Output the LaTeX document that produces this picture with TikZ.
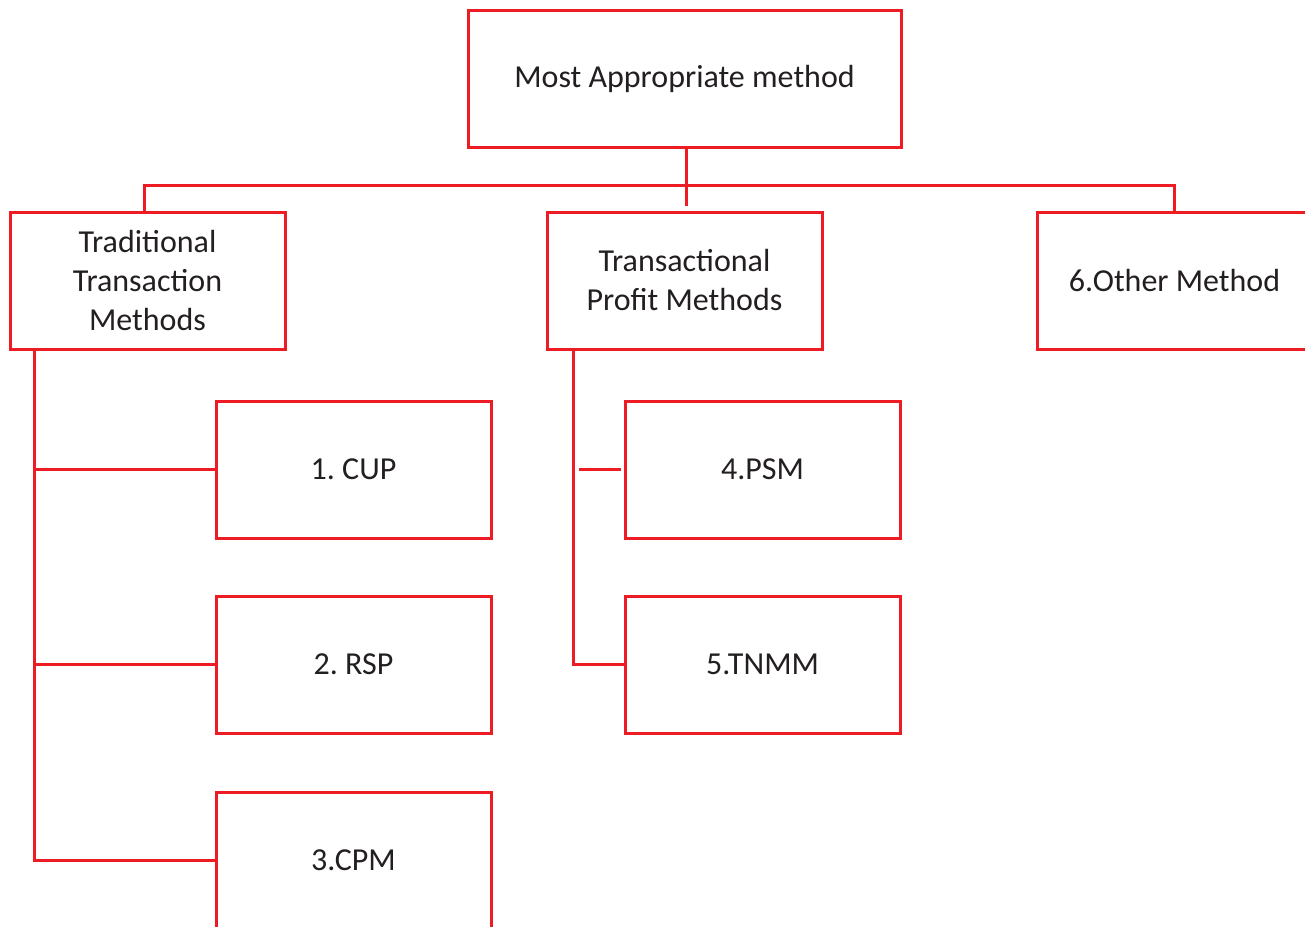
\documentclass[tikz,border=0pt]{standalone}
\usepackage{fontspec}
\setmainfont{Carlito}
\usepackage{tikz}
\usetikzlibrary{positioning}
\usetikzlibrary{calc}
\definecolor{mycontour}{HTML}{ED1C24}
\definecolor{mytext}{HTML}{231F20}
\frenchspacing

\begin{document}
\begin{tikzpicture}[
    x=0.5pt, y=-0.5pt,
    line width=1.5pt,
    color=mycontour,
    text=mytext,
    align=center,
    every node/.style={
      rectangle,
      draw=mycontour,
      fill=white,
      inner sep=0pt,
      font=\fontsize{16}{19.5}\selectfont,
      minimum width=137.5pt,
      minimum height=68.5pt
    }
]
  \useasboundingbox (0,0) rectangle (1305,926);
  \clip (0,0) rectangle (1305,926);

  \node (mostappropriate) [minimum width=216.5pt] at (684.5,78.5) {Most Appropriate method};

  \node (traditional) at (147.5,280.5) {Traditional\\ Transaction\\ Methods};
  \node (transactionalprofit) at (684.5,280.5) {Transactional\\ Profit Methods};
  \node (othermethod) at (1174.5,280.5) {6.Other Method};

  \node (cup) at (353.5,469.5) {1. CUP};
  \node (rsp) [below=27.5pt of cup] {2. RSP};
  \node (cpm) [below=28pt of rsp] {3.CPM};

  \node (psm) at (762.5,469.5) {4.PSM};
  \node (tnmm) [below=27.5pt of psm] {5.TNMM};

  % top level
  \coordinate (bus) at (686,185);
  \draw[shorten >=2.5pt] (mostappropriate.south -| bus) -- (transactionalprofit.north -| bus);
  \draw (traditional.north -| 144,0) |- (bus) -| (othermethod.north);

  % traditional transaction methods
  \coordinate (tradspine) at ($(traditional.south west)+(26,0)$);
  \draw (tradspine) |- (cpm.west);
  \draw (tradspine |- cup.west) -- (cup.west);
  \draw (tradspine |- rsp.west) -- (rsp.west);

  % transactional profit methods
  \coordinate (tpmspine) at ($(transactionalprofit.south west)+(28,0)$);
  \draw (tpmspine) |- (tnmm.west);
  \draw[shorten <=2.5pt, shorten >=1.5pt] (tpmspine |- psm.west) -- (psm.west);

\end{tikzpicture}
\end{document}
